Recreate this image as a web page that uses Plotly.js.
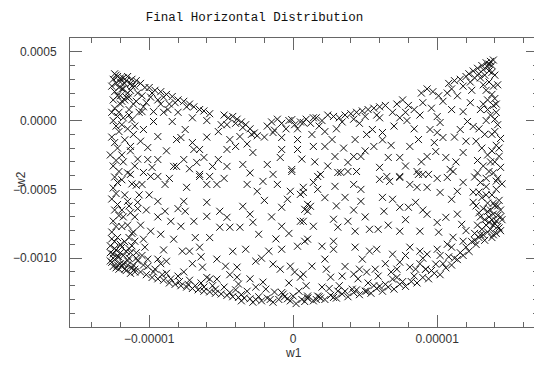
<!DOCTYPE html>
<html>
<head>
<meta charset="utf-8">
<script src="https://cdn.plot.ly/plotly-3.0.1.min.js"></script>
<style>
html,body{margin:0;padding:0;overflow:hidden;background:#fff;}
#chart{width:540px;height:367px;}
</style>
</head>
<body>
<div id="chart"></div>
<script>
// Values in units of 1e-6 : [w1, w2]
const leftEdge = [[-12.4,340],[-12.2,320],[-12.5,300],[-12.0,310],[-12.3,270],[-12.6,250],[-12.1,240],[-12.4,210],[-12.2,180],[-12.5,150],[-12.0,120],[-12.4,90],[-12.6,60],[-12.2,30],[-12.5,0],[-12.3,-40],[-12.1,-80],[-12.6,-120],[-12.4,-160],[-12.2,-200],[-12.7,-250],[-12.3,-290],[-12.5,-330],[-12.1,-370],[-12.4,-410],[-12.2,-450],[-12.5,-490],[-12.3,-530],[-12.6,-570],[-12.2,-610],[-12.4,-650],[-12.1,-690],[-12.5,-730],[-12.3,-770],[-12.6,-810],[-12.2,-850],[-12.4,-880],[-12.7,-910],[-12.3,-940],[-12.5,-970],[-12.1,-990],[-12.4,-1010],[-12.6,-1030],[-12.2,-1050],[-12.0,-1040],[-12.3,-1070],[-11.9,-1060],[-12.5,-1000],[-12.7,-960],
[-11.6,290],[-11.3,270],[-11.8,230],[-11.5,200],[-11.2,250],[-11.7,150],[-11.4,80],[-11.8,20],[-11.5,-60],[-11.7,-140],[-11.3,-220],[-11.8,-300],[-11.5,-380],[-11.2,-460],[-11.7,-540],[-11.4,-620],[-11.8,-700],[-11.5,-760],[-11.2,-820],[-11.7,-880],[-11.4,-930],[-11.8,-980],[-11.5,-1020],[-11.2,-1070],[-11.6,-1090],[-11.0,-1100],[-11.3,-1110],
[-10.9,-470],[-11.0,-700],[-10.6,-760],[-10.2,-650],[-11.1,-810],[-10.7,-540],[-10.3,-920],[-10.9,-960],
[-11.9,-30],[-11.0,-40],[-10.6,-150],[-11.9,-250],[-10.8,-280],[-11.9,-430],[-11.0,-330],[-11.9,-650],[-11.3,-670],[-10.8,-640],[-11.9,-770],[-11.4,-850]];
const topLeft = [[-12.3,330],[-12.0,300],[-11.8,310],[-11.5,320],[-11.2,300],[-10.9,290],[-11.7,270],[-11.0,250],[-10.6,270],[-10.3,240],[-11.3,220],[-10.8,200],[-12.0,180],[-11.6,170],[-10.5,180],[-11.9,140],[-11.1,120],[-10.2,130],[-12.1,60],[-11.4,40],[-10.7,60],
[-12.0,280],[-11.9,230],[-11.4,170],[-10.9,140],[-10.4,100],[-9.9,170],[-9.2,120],[-8.7,80]];
const topEdge = [[-10.0,240],[-9.6,220],[-9.2,210],[-8.8,190],[-8.4,175],[-8.0,150],[-7.6,140],[-7.2,120],[-6.9,100],[-6.5,80],[-9.8,200],[-9.0,170],[-8.2,130],[-7.4,100],[-6.2,70],[-5.8,50],[-9.4,150],[-8.6,120],
[-4.8,40],[-4.5,20],[-4.2,30],[-3.9,10],[-3.6,-10],[-3.3,-30],[-3.0,-60],[-2.7,-90],[-2.5,-110],[-4.0,-20],[-3.5,-50],[-2.9,-100],[-4.6,-30],
[-1.8,-40],[-1.5,-10],[-1.1,10],[-0.8,-20],[-0.3,0],[0.1,-30],[0.5,-10],[0.9,10],[1.2,-20],[-1.3,-70],[0.3,-60],
[1.6,20],[2.0,0],[2.4,40],[2.8,30],[1.8,-40],
[3.2,20],[3.6,40],[4.0,50],[4.4,60],[4.8,70],[5.2,80],[5.6,90],[6.0,100],[6.4,110],[3.4,-10],[4.2,10],[5.0,30],[5.8,40],
[7.2,120],[7.6,150],[8.0,110],[7.8,60],[8.4,80],[7.4,20],
[8.9,200],[9.3,230],[9.7,210],[10.1,180],[9.0,130],
[10.8,270],[11.2,290],[11.6,300],[12.0,320],[11.0,230],[11.8,250],[12.3,280],[10.7,200],
[12.4,220],[11.4,180],[10.4,140],[9.6,90],[8.8,40],[7.9,0],[6.9,60],[6.0,20],[4.6,-20],[3.0,-60],[2.2,-80],[-0.5,-60],[-5.0,-30],[-6.0,0],[-7.0,20],[-8.0,60],[-9.0,60]];
const rightTop = [[12.2,340],[12.5,360],[12.8,380],[13.1,400],[13.4,420],[13.7,430],[13.5,390],[13.2,370],[12.9,340],[13.6,360],[13.0,310],[13.8,400],[12.6,310],[13.3,330],[13.9,440],[13.6,410],
[13.2,260],[13.6,280],[13.9,250],[13.4,220],[13.8,190],[14.0,160],[13.5,150],[13.9,110],[13.2,120],[14.1,60],[13.7,40],[14.0,10],
[13.4,0],[13.0,80],[13.5,80],[14.1,120],[14.2,260],[14.0,330],[13.8,350]];
const rightEdge = [[14.2,-30],[14.0,-80],[14.4,-130],[14.1,-180],[13.8,-220],[14.3,-260],[14.0,-300],[14.4,-340],[13.9,-380],[14.2,-420],[14.5,-460],[14.1,-500],[13.8,-540],[14.3,-580],[14.0,-620],[14.4,-650],[14.2,-690],[14.5,-720],[14.0,-750],[14.3,-780],[14.1,-820],[13.8,-850],[14.4,-800],[13.6,-700],[13.9,-680],[13.4,-760],[13.7,-790],[13.2,-830],
[12.9,-60],[13.3,-100],[12.7,-150],[13.1,-200],[13.5,-250],[12.8,-290],[13.2,-330],[13.6,-370],[12.6,-410],[13.0,-450],[13.4,-480],
[12.8,-380],[13.4,-420],[12.5,-520],[13.1,-560],[13.5,-600],[12.7,-620],[12.5,-594],
[13.9,-830],[14.2,-770],[14.4,-700],[13.7,-650],[14.2,-620],[13.9,-600],[13.4,-540],[12.9,-520],[14.1,-440],[13.7,-300],[14.3,-200],[13.8,-100]];
const rightLower = [[13.0,-700],[13.3,-720],[13.6,-740],[13.9,-760],[12.8,-760],[13.1,-790],[13.5,-810],[12.6,-820],[12.9,-850],[13.3,-870],[12.4,-880],[12.7,-900],[13.8,-720],[14.1,-730],[13.5,-660],[13.2,-640],[12.9,-670],
[12.6,-870],[13.0,-830],[12.0,-800]];
const bottomLeft = [[-12.6,-860],[-12.0,-900],[-11.6,-950],[-12.2,-990],[-11.4,-1000],[-11.8,-1040],[-12.5,-1060],[-11.1,-1050],[-11.9,-920],[-12.7,-1020],[-11.3,-960],
[-10.9,-1000],[-11.7,-1080],[-12.1,-1080],[-11.5,-1050],[-12.0,-960],[-12.4,-930],[-11.2,-910],[-10.5,-980]];
const bottomEdge = [[-11.0,-1080],[-10.6,-1100],[-10.2,-1120],[-9.8,-1140],[-9.4,-1150],[-9.0,-1160],[-8.6,-1180],[-8.2,-1190],[-7.8,-1200],[-7.4,-1210],[-7.0,-1220],[-6.6,-1230],[-6.2,-1240],[-5.8,-1245],[-5.4,-1255],[-5.0,-1260],[-4.6,-1270],[-4.2,-1280],[-3.8,-1285],[-3.4,-1290],[-3.0,-1295],[-2.6,-1300],
[-10.4,-1050],[-9.6,-1080],[-8.8,-1110],[-8.0,-1130],[-7.2,-1160],[-6.4,-1180],[-5.6,-1200],[-4.8,-1210],[-4.0,-1230],[-3.2,-1240],[-10.8,-1020],[-9.2,-1040],[-7.6,-1100],[-6.0,-1140],
[-2.2,-1310],[-1.8,-1290],[-1.4,-1320],[-1.0,-1300],[-0.6,-1280],[-0.2,-1310],[0.2,-1330],[0.6,-1300],[1.0,-1290],[1.4,-1310],[-3.6,-1310],[-2.8,-1320],[-0.8,-1250],[0.4,-1240],
[1.8,-1280],[2.2,-1300],[2.6,-1270],[3.0,-1290],[3.4,-1260],[3.8,-1280],[4.2,-1250],[4.6,-1265],[5.0,-1240],[5.4,-1255],[5.8,-1220],[6.2,-1240],[6.6,-1210],[7.0,-1225],[7.4,-1190],[7.8,-1205],[8.2,-1170],[8.6,-1180],[9.0,-1140],[9.4,-1150],[9.8,-1110],[10.2,-1120],[10.6,-1070],[11.0,-1050],[11.4,-1010],[11.8,-980],[12.2,-950],[3.2,-1200],[5.2,-1180],[7.2,-1140],[9.2,-1080],[10.8,-990],[4.5,-1150],[6.8,-1100],[8.8,-1040],[2.5,-1220],
[-10.1,-1060],[-9.7,-1100],[-9.1,-1120],[-8.5,-1150],[-7.9,-1170],[-7.3,-1190],[-6.8,-1200],[-6.2,-1210],[-5.4,-1225],[-4.4,-1250],[-3.6,-1265],[-2.4,-1280],[-1.6,-1300],[-0.4,-1295],[0.8,-1315],[1.6,-1300],[2.8,-1285],[3.6,-1240],[4.4,-1230],[5.6,-1200],[6.4,-1190],[7.6,-1170],[8.4,-1130],[9.6,-1090],[10.4,-1040],[11.2,-1000],[11.6,-960],[12.0,-920]];
const interior = [[-11.2,7],[-10.5,65],[-9.7,65],[-10.4,-65],[-9.7,-7],[-8.4,-7],[-7.5,-65],[-7.8,-123],[-9.4,-116],[-11.1,-101],[-11.3,-188],[-10.1,-196],[-10.1,-283],[-9.4,-283],[-8.1,-138],[-8.1,-333],[-7.6,-283],[-6.9,-210],[-6.5,-210],[-6.2,-268],[-6.7,-304],[-5.2,-80],[-4.4,-138],[-3.7,-116],[-4.0,-188],[-4.6,-210],[-5.2,-283],[-5.6,-333],[-4.6,-333],[-3.5,-319],[-2.8,-232],[-1.8,-319],[-1.4,-391],[-0.8,-210],[-0.9,-268],[-1.4,-87],[-0.8,-123],[-0.1,7],[0.3,-138],[0.3,-210],[-0.1,-355],[0.7,-14],[1.4,20],[1.3,-101],[-11.3,-391],[-10.4,-377],[-9.4,-406],[-8.3,-333],[-6.5,-406],[-5.8,-406],
[-9.9,-406],[-10.5,-464],[-8.9,-464],[-7.4,-485],[-6.5,-391],[-6.0,-464],[-5.3,-464],[-3.2,-464],[-2.1,-442],[-2.5,-514],[-1.1,-464],[-0.2,-514],[0.7,-485],[1.4,-449],[-0.1,-370],[-11.5,-587],[-10.8,-594],[-9.4,-587],[-8.9,-659],[-7.6,-587],[-7.5,-659],[-6.0,-594],[-5.1,-659],[-3.5,-623],[-4.6,-703],[-8.5,-732],[-7.8,-768],[-6.9,-732],[-6.0,-696],[-5.1,-775],[-4.4,-775],[-3.7,-775],[-2.8,-739],[-2.4,-826],[-0.8,-630],[-0.4,-572],[-0.8,-768],[0.5,-732],[0.8,-645],[1.2,-623],[1.4,-768],[0.5,-536],[-9.9,-804],[-9.2,-826],[-8.3,-862],[-7.7,-949],[-7.2,-949],[-6.5,-920],[-3.3,-935],[-1.7,-949],[-0.8,-935],[0.3,-913],[1.0,-862],[-10.4,-862],[-11.0,-877],[-10.1,-1007],[-9.4,-1007],[-8.8,-1022],[-5.3,-1007],[-4.7,-1058],[-3.9,-1065],[-6.3,-1065],[-5.8,-1152],[-5.3,-1152],[-3.9,-1138],[-3.8,-1188],[-2.6,-1022],[-1.4,-1043],[-0.9,-1080],[-0.2,-1058],[0.1,-1101],[0.5,-1138],[1.3,-1058],[-2.1,-1174],[-1.9,-1225],[-1.3,-1246],[-0.7,-1261],[0.0,-1275],[1.0,-1275],[1.7,-1275],
[1.9,-391],[3.1,-377],[3.8,-370],[6.0,-427],[6.7,-442],[7.4,-413],[8.7,-391],[9.4,-391],[10.7,-413],[11.1,-370],[11.8,-449],[0.7,-522],[1.7,-500],[2.9,-478],[4.2,-464],[4.7,-500],[3.6,-558],[4.7,-587],[6.2,-558],[6.9,-572],[8.1,-464],[8.6,-485],[9.3,-485],[10.2,-522],[11.0,-572],[11.4,-514],[1.0,-609],[1.0,-659],[6.3,-659],[7.4,-630],[8.0,-630],[8.5,-594],[9.3,-681],[10.6,-703],[11.7,-754],[0.7,-732],[2.8,-717],[3.8,-732],[3.1,-775],[4.3,-804],[5.3,-790],[5.9,-790],[7.4,-804],[8.8,-804],[10.1,-811],[11.1,-848],[0.8,-877],[2.0,-913],[2.8,-877],[2.8,-935],[4.3,-920],[5.3,-949],[5.8,-935],[6.9,-971],[8.1,-920],[8.8,-949],[9.3,-971],[10.0,-935],[10.7,-899],[11.8,-877],[2.2,-1007],[4.8,-1007],[5.7,-1080],[5.9,-1130],[7.4,-1029],[8.1,-1065],[8.5,-1080],[9.2,-1080],[9.9,-1043],[0.7,-1116],[2.6,-1138],[3.4,-1130],[4.2,-1116],[5.1,-1101],[6.9,-1152],[2.0,-1210],[3.1,-1239],[4.1,-1225],[5.1,-1239],[6.0,-1203],[1.0,-1290],[1.9,-1290],
[1.4,-188],[2.2,-188],[2.7,-138],[2.9,-261],[3.8,-304],[4.2,-261],[4.7,-261],[4.3,-138],[5.1,-101],[5.5,-65],[6.2,-87],[5.6,-188],[6.0,-340],[6.6,-268],[7.4,-268],[8.1,-188],[8.7,-138],[9.3,-261],[9.9,-225],[9.5,-65],[10.0,-87],[10.4,-123],[10.6,-268],[11.8,-232],[11.6,-65],[12.1,-7],[12.5,-43],[11.0,80],[11.8,65],[12.3,130],[10.0,29],[10.2,-14],[1.7,-406],[3.3,-377],[4.4,-370],[6.5,-406],[7.4,-406],[8.6,-370],[9.0,-391],[10.9,-355],
[-2.0,-120],[-3.2,-170],[-6.0,-120],[-7.0,-160],[-8.8,-220],[-9.8,-340],[-8.6,-420],[-7.2,-350],[-4.8,-420],[-3.0,-380],[-2.0,-580],[-3.0,-680],[-1.5,-700],[-0.3,-820],[-1.2,-860],[-2.2,-1000],[-4.2,-950],[-5.8,-850],[-6.8,-850],[-8.0,-640],[-9.4,-700],[-10.0,-540],[-9.0,-940],[-7.0,-1040],[-6.4,-990],[-4.4,-1120],[-3.0,-1150],[-2.6,-1210],[-0.3,-1180],[0.9,-1200],[2.3,-1080],[3.6,-1060],[4.6,-1080],[6.4,-1040],[7.2,-1080],[7.8,-980],[9.0,-1000],[10.2,-980],[11.0,-920],[11.4,-680],[10.0,-740],[9.0,-650],[7.8,-720],[6.6,-760],[5.0,-700],[4.2,-650],[3.0,-620],[2.2,-560],[1.5,-300],[0.6,-280],[2.4,-330],[3.5,-200],[5.0,-220],[6.8,-180],[7.8,-330],[8.9,-300],[10.0,-420],[11.3,-300],[12.0,-150],[11.2,-120],[9.8,-160],[8.4,-60],[7.0,-40],[6.2,-140]];

const xTickVals = [-1e-5, 0, 1e-5];
const xTickText = ['\u22120.00001', '0', '0.00001'];
const yTickVals = [5e-4, 0, -5e-4, -1e-3];
const yTickText = ['0.0005', '0.0000', '\u22120.0005', '\u22120.0010'];

const allPts = [].concat(leftEdge, topLeft, topEdge, rightTop, rightEdge, rightLower, bottomLeft, bottomEdge, interior);
const w1 = allPts.map(p => p[0] * 1e-6);
const w2 = allPts.map(p => p[1] * 1e-6);

const axisCommon = {
  showline: true, linecolor: '#666', linewidth: 1, mirror: 'allticks',
  ticks: 'inside', ticklen: 12, tickcolor: '#666', tickwidth: 1,
  showgrid: false, zeroline: false, tickmode: 'array',
  tickfont: {family: 'Liberation Sans, Arial, sans-serif', size: 12, color: '#333'}
};

const trace = {
  x: w1, y: w2, type: 'scatter', mode: 'markers',
  marker: {symbol: 'x-thin', size: 7, color: '#111', line: {width: 1, color: '#111'}},
  hoverinfo: 'none'
};

const layout = {
  width: 540, height: 367,
  margin: {l: 70, r: 2, t: 38, b: 40},
  paper_bgcolor: '#fff', plot_bgcolor: '#fff',
  showlegend: false,
  title: {text: 'Final Horizontal Distribution', xref: 'container', yref: 'container',
          x: 254.5/540, xanchor: 'center', y: 1 - 17/367, yanchor: 'middle',
          font: {family: 'Liberation Mono, Courier New, monospace', size: 12.5, color: '#111'}},
  xaxis: Object.assign({}, axisCommon, {
    range: [-15.5e-6, 17e-6], tickvals: xTickVals, ticktext: xTickText, ticklabelstandoff: 1,
    minor: {tickmode: 'linear', tick0: 0, dtick: 2e-6, ticks: 'inside', ticklen: 5, tickcolor: '#666', showgrid: false}
  }),
  yaxis: Object.assign({}, axisCommon, {
    range: [-1.5e-3, 6e-4], tickvals: yTickVals, ticktext: yTickText, ticklabelstandoff: 10,
    minor: {tickmode: 'linear', tick0: 0, dtick: 1e-4, ticks: 'inside', ticklen: 5, tickcolor: '#666', showgrid: false}
  }),
  annotations: [
    {text: 'w1', xref: 'paper', yref: 'paper', x: (293-70)/468, y: (327-353)/289,
     xanchor: 'center', yanchor: 'middle', showarrow: false,
     font: {family: 'Liberation Sans, Arial, sans-serif', size: 12, color: '#333'}},
    {text: 'w2', xref: 'paper', yref: 'paper', x: (21-70)/468, y: (327-180)/289, textangle: -90,
     xanchor: 'center', yanchor: 'middle', showarrow: false,
     font: {family: 'Liberation Sans, Arial, sans-serif', size: 12, color: '#333'}}
  ]
};

Plotly.newPlot('chart', [trace], layout, {displayModeBar: false, staticPlot: true});
</script>
</body>
</html>
